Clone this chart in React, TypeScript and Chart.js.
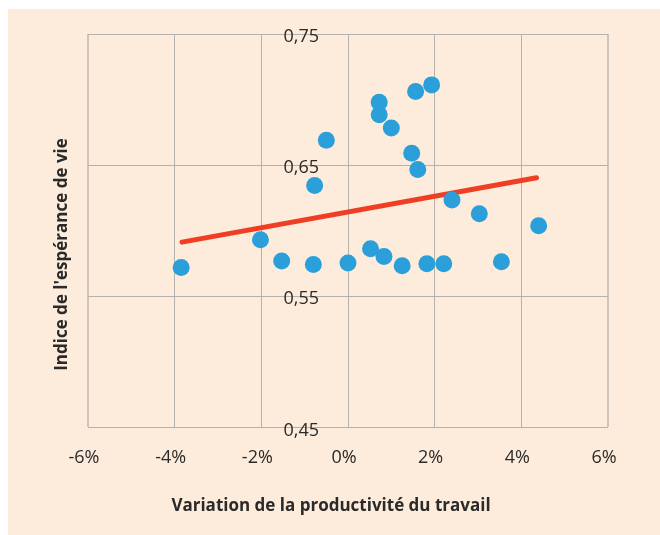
import React, { useEffect, useRef } from "react";
import { Chart, registerables } from "chart.js";

Chart.register(...registerables);

// Variation de la productivité du travail (%)
const productivity = [
  -3.85, -2.02, -1.53, -0.8, -0.77, -0.5, 0.0, 0.52, 0.83, 1.25, 0.72, 0.72,
  1.0, 1.47, 1.61, 1.56, 1.93, 1.82, 2.21, 2.4, 3.03, 3.54, 4.4,
];
// Indice de l'espérance de vie
const lifeIndex = [
  0.572, 0.5931, 0.5769, 0.5743, 0.6344, 0.6689, 0.5753, 0.5863, 0.5804,
  0.5733, 0.6979, 0.6885, 0.6784, 0.659, 0.6466, 0.7061, 0.7112, 0.5748,
  0.5748, 0.6234, 0.613, 0.5763, 0.6038,
];
// Droite de tendance
const trendX = [-3.83, 4.35];
const trendY = [0.5913, 0.6404];

const xTicks = [-6, -4, -2, 0, 2, 4, 6];
const yTicks = [0.45, 0.55, 0.65, 0.75];

const xTitle = "Variation de la productivité du travail";
const yTitle = "Indice de l'espérance de vie";

const GRID = "#b5b2ae";
const EDGE = "#ccc3ba";
const TEXT = "#2a2a2a";

const titlesPlugin = {
  id: "axisTitles",
  afterDraw(chart: any) {
    const ctx = chart.ctx;
    ctx.save();
    ctx.font = 'bold 17px "Open Sans"';
    ctx.fillStyle = TEXT;
    ctx.textAlign = "center";
    ctx.textBaseline = "middle";
    ctx.fillText(xTitle, 323, 497);
    ctx.translate(54, 245.5);
    ctx.rotate(-Math.PI / 2);
    ctx.fillText(yTitle, 0, 0);
    ctx.restore();
  },
};

export default function App() {
  const ref = useRef<HTMLCanvasElement | null>(null);

  useEffect(() => {
    if (!ref.current) return;
    const tickFont = { family: "Open Sans", size: 18 };
    const chart = new Chart(ref.current, {
      type: "scatter",
      data: {
        datasets: [
          {
            type: "scatter",
            label: "Pays",
            data: productivity.map((x, i) => ({ x, y: lifeIndex[i] })),
            backgroundColor: "#2b9fda",
            borderWidth: 0,
            pointRadius: 8.5,
            pointHoverRadius: 8.5,
            yAxisID: "y",
            order: 1,
          },
          {
            type: "line",
            label: "Tendance",
            data: trendX.map((x, i) => ({ x, y: trendY[i] })),
            borderColor: "#ef3e24",
            borderWidth: 5,
            borderCapStyle: "round",
            pointRadius: 0,
            showLine: true,
            fill: false,
            yAxisID: "y",
            order: 2,
          },
        ],
      },
      options: {
        responsive: false,
        animation: false,
        layout: { padding: { left: 80, right: 52, top: 25, bottom: 46 } },
        plugins: {
          legend: { display: false },
          tooltip: { enabled: false },
        },
        scales: {
          x: {
            type: "linear",
            min: -6,
            max: 6,
            afterBuildTicks: (axis: any) => {
              axis.ticks = xTicks.map((v) => ({ value: v }));
            },
            border: { display: false },
            grid: {
              drawTicks: false,
              color: (c: any) =>
                c.tick && (c.tick.value === -6 || c.tick.value === 6) ? EDGE : GRID,
              lineWidth: (c: any) =>
                c.tick && (c.tick.value === -6 || c.tick.value === 6) ? 2 : 1,
            },
            ticks: {
              font: tickFont,
              color: TEXT,
              padding: 20,
              labelOffset: -4,
              maxRotation: 0,
              autoSkip: false,
              callback: (v: any) => `${v}%`,
            },
          },
          y: {
            type: "linear",
            position: "left",
            min: 0.45,
            max: 0.75,
            afterBuildTicks: (axis: any) => {
              axis.ticks = yTicks.map((v) => ({ value: v }));
            },
            border: { display: false },
            grid: { drawTicks: false, color: GRID, lineWidth: 1 },
            ticks: { display: false },
          },
          yLab: {
            type: "linear",
            axis: "y",
            position: { x: -0.67 },
            min: 0.45,
            max: 0.75,
            afterBuildTicks: (axis: any) => {
              axis.ticks = yTicks.map((v) => ({ value: v }));
            },
            border: { display: false },
            grid: { display: false, drawTicks: false },
            ticks: {
              font: tickFont,
              color: TEXT,
              padding: 0,
              labelOffset: 3,
              callback: (v: any) => Number(v).toFixed(2).replace(".", ","),
            },
          },
        } as any,
      },
      plugins: [titlesPlugin],
    } as any);
    return () => chart.destroy();
  }, []);

  return (
    <div
      style={{
        position: "fixed",
        left: 8,
        top: 9,
        width: 652,
        height: 526,
        background: "#fdecdb",
      }}
    >
      <canvas ref={ref} width={652} height={526} style={{ display: "block" }} />
    </div>
  );
}
